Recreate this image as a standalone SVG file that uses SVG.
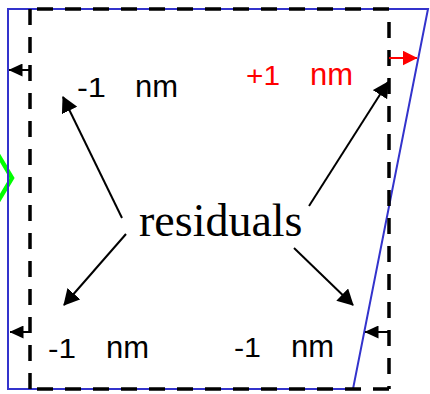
<svg xmlns="http://www.w3.org/2000/svg" width="430" height="394" viewBox="0 0 430 394">
  <style>
    .lbl { font-family: "Liberation Sans", Arial, sans-serif; fill: #000; }
    .red { fill: #ff0000; }
    .num { font-size: 27px; }
    .unit { font-size: 31px; }
    .dash { fill: none; stroke: #000; stroke-width: 3.5; stroke-dasharray: 16 12; }
    .arrow { fill: none; stroke: #000; stroke-width: 2; }
    .small { fill: none; stroke: #000; stroke-width: 2; }
  </style>
  <defs>
    <marker id="big" markerUnits="userSpaceOnUse" markerWidth="16" markerHeight="17" viewBox="0 0 16 17" refX="15" refY="8.5" orient="auto">
      <path d="M0,0 L16,8.5 L0,17 Z" fill="#000"/>
    </marker>
    <marker id="sm" markerUnits="userSpaceOnUse" markerWidth="14" markerHeight="13" viewBox="0 0 14 13" refX="13.5" refY="6.5" orient="auto">
      <path d="M0,0 L14,6.5 L0,13 Z" fill="#000"/>
    </marker>
    <marker id="smred" markerUnits="userSpaceOnUse" markerWidth="15" markerHeight="15" viewBox="0 0 15 15" refX="14.5" refY="7.5" orient="auto">
      <path d="M0,0 L15,7.5 L0,15 Z" fill="#ff0000"/>
    </marker>
  </defs>

  <rect x="0" y="0" width="430" height="394" fill="#fff"/>

  <g id="green-mark">
    <polyline points="-18,128 12,178 -18,228" fill="none" stroke="#00ff00" stroke-width="4.5"/>
  </g>

  <g id="measured-shape">
    <polygon points="8,9 428,9 353,389 8,389" fill="none" stroke="#3333cc" stroke-width="2"/>
  </g>

  <g id="nominal-shape">
    <line class="dash" x1="30" y1="9" x2="30" y2="389"/>
    <line class="dash" x1="389" y1="9" x2="30" y2="9"/>
    <line class="dash" x1="389" y1="22" x2="389" y2="389"/>
    <line class="dash" x1="389" y1="389" x2="30" y2="389"/>
  </g>

  <g id="connectors">
    <line class="small" x1="30" y1="70" x2="9" y2="70" marker-end="url(#sm)"/>
    <line class="small" x1="30" y1="332" x2="10" y2="332" marker-end="url(#sm)"/>
    <line class="small" x1="389" y1="332" x2="365" y2="332" marker-end="url(#sm)"/>
    <line x1="389" y1="58" x2="417" y2="58" stroke="#ff0000" stroke-width="2" marker-end="url(#smred)"/>
    <line class="arrow" x1="122" y1="218" x2="63" y2="97" marker-end="url(#big)"/>
    <line class="arrow" x1="309" y1="206" x2="388" y2="82" marker-end="url(#big)"/>
    <line class="arrow" x1="126" y1="234" x2="64" y2="305" marker-end="url(#big)"/>
    <line class="arrow" x1="294" y1="248" x2="353" y2="305" marker-end="url(#big)"/>
  </g>

  <g id="label-top-left">
    <text class="lbl num" x="77" y="97" textLength="29" lengthAdjust="spacingAndGlyphs">-1</text>
    <text class="lbl unit" x="135" y="97">nm</text>
  </g>
  <g id="label-top-right">
    <text class="lbl red num" x="246" y="85" textLength="34" lengthAdjust="spacingAndGlyphs">+1</text>
    <text class="lbl red unit" x="310" y="85">nm</text>
  </g>
  <g id="label-bottom-left">
    <text class="lbl num" x="48" y="358" textLength="28" lengthAdjust="spacingAndGlyphs">-1</text>
    <text class="lbl unit" x="106" y="358">nm</text>
  </g>
  <g id="label-bottom-right">
    <text class="lbl num" x="234" y="357" textLength="27" lengthAdjust="spacingAndGlyphs">-1</text>
    <text class="lbl unit" x="291" y="357">nm</text>
  </g>
  <g id="residuals">
    <text x="139" y="236" font-family="'Liberation Serif', 'Times New Roman', serif" font-size="46" fill="#000">residuals</text>
  </g>
</svg>
